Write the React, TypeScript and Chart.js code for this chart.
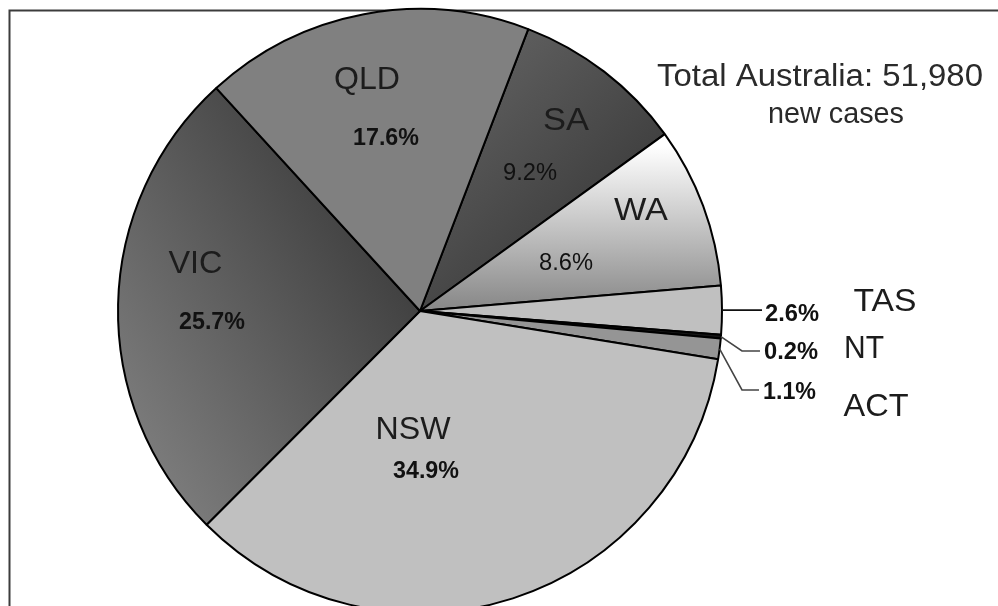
import React, { useEffect, useRef } from "react";
import { Chart, registerables } from "chart.js";

Chart.register(...registerables);

// ---- data ----
const categories = ["SA", "WA", "TAS", "NT", "ACT", "NSW", "VIC", "QLD"];
const shares = [9.2, 8.6, 2.6, 0.2, 1.1, 34.9, 25.7, 17.6];
const pctLabels = ["9.2%", "8.6%", "2.6%", "0.2%", "1.1%", "34.9%", "25.7%", "17.6%"];
const titleLines = ["Total Australia: 51,980", "new cases"];

// ---- styles / layout ----
const FONT = '"Liberation Sans", Arial, Helvetica, sans-serif';
const NAME_FONT = `31px ${FONT}`;
const TITLE2_FONT = `29px ${FONT}`;
const PCT_BOLD = `bold 24px ${FONT}`;
const PCT_REG = `24px ${FONT}`;
const RADIUS = 302;
const START_DEG = 21;

const flatColors: Record<string, string> = {
  SA: "#4a4a4a",
  WA: "#c8c8c8",
  TAS: "#c0c0c0",
  NT: "#151515",
  ACT: "#959595",
  NSW: "#c0c0c0",
  VIC: "#5a5a5a",
  QLD: "#808080",
};

// gradient endpoints in radius units relative to pie centre
const gradients: Record<string, [number, number, number, number, string, string]> = {
  SA: [0.199, -0.993, 0.828, -0.331, "#646464", "#383838"],
  WA: [0, -0.546, 0, -0.017, "#ffffff", "#8a8a8a"],
  VIC: [-0.927, 0.497, -0.033, -0.066, "#7d7d7d", "#414141"],
};

// inside labels: [dx/r, baselineDy/r, targetWidth]
const inside: Record<string, { name: number[]; pct: number[]; bold: boolean }> = {
  QLD: { name: [-0.1755, -0.7351, 66], pct: [-0.1126, -0.5497, 66], bold: true },
  SA: { name: [0.4834, -0.5993, 46], pct: [0.3642, -0.4338, 54], bold: false },
  WA: { name: [0.7318, -0.3013, 54], pct: [0.4834, -0.1358, 54], bold: false },
  VIC: { name: [-0.7434, -0.1258, 54], pct: [-0.6887, 0.0596, 66], bold: true },
  NSW: { name: [-0.0232, 0.4238, 75], pct: [0.0199, 0.553, 66], bold: true },
};

// outside labels with leader lines
const outside: Record<
  string,
  { elbow: number[] | null; end: number; pct: number[]; name: number[]; line: string }
> = {
  TAS: { elbow: null, end: 1.1325, pct: [1.1424, 0.0331, 54], name: [1.5397, 0.0, 63], line: "#111" },
  NT: { elbow: [1.0662, 0.1325], end: 1.1258, pct: [1.1391, 0.1589, 54], name: [1.4702, 0.1556, 40], line: "#444" },
  ACT: { elbow: [1.0662, 0.2616], end: 1.1225, pct: [1.1358, 0.2914, 53], name: [1.5099, 0.3477, 65], line: "#444" },
};

const titleLayout = [
  { x: 820, y: 86, w: 326, font: NAME_FONT },
  { x: 836, y: 123, w: 136, font: TITLE2_FONT },
];

function drawText(
  ctx: CanvasRenderingContext2D,
  text: string,
  x: number,
  y: number,
  font: string,
  align: CanvasTextAlign,
  width: number,
  color: string
) {
  ctx.save();
  ctx.font = font;
  const w = ctx.measureText(text).width;
  const sx = width && w ? width / w : 1;
  ctx.translate(x, y);
  ctx.scale(sx, 1);
  ctx.textAlign = align;
  ctx.textBaseline = "alphabetic";
  ctx.fillStyle = color;
  ctx.fillText(text, 0, 0);
  ctx.restore();
}

function centre(chart: any) {
  const a = chart.chartArea;
  return { cx: (a.left + a.right) / 2, cy: (a.top + a.bottom) / 2 };
}

const decorPlugin = {
  id: "decor",
  beforeDatasetsDraw(chart: any) {
    const ctx = chart.ctx as CanvasRenderingContext2D;
    ctx.save();
    ctx.strokeStyle = "#3c3c3c";
    ctx.lineWidth = 2;
    ctx.strokeRect(9.5, 10.5, 2000, 2000);
    ctx.restore();
  },
  afterDatasetsDraw(chart: any) {
    const ctx = chart.ctx as CanvasRenderingContext2D;
    const meta = chart.getDatasetMeta(0);
    const { cx, cy } = centre(chart);
    const r = RADIUS;
    categories.forEach((cat, i) => {
      const inL = inside[cat];
      if (inL) {
        drawText(ctx, cat, cx + inL.name[0] * r, cy + inL.name[1] * r, NAME_FONT, "center", inL.name[2], "#1c1c1c");
        drawText(
          ctx,
          pctLabels[i],
          cx + inL.pct[0] * r,
          cy + inL.pct[1] * r,
          inL.bold ? PCT_BOLD : PCT_REG,
          "center",
          inL.pct[2],
          "#111"
        );
      }
      const out = outside[cat];
      if (out) {
        const el = meta.data[i];
        const mid = (el.startAngle + el.endAngle) / 2;
        const sx = el.x + Math.cos(mid) * el.outerRadius;
        const sy = el.y + Math.sin(mid) * el.outerRadius;
        ctx.save();
        ctx.strokeStyle = out.line;
        ctx.lineWidth = 1.6;
        ctx.beginPath();
        ctx.moveTo(sx, sy);
        if (out.elbow) {
          const ex = cx + out.elbow[0] * r;
          const ey = cy + out.elbow[1] * r;
          ctx.lineTo(ex, ey);
          ctx.lineTo(cx + out.end * r, ey);
        } else {
          ctx.lineTo(cx + out.end * r, sy);
        }
        ctx.stroke();
        ctx.restore();
        drawText(ctx, pctLabels[i], cx + out.pct[0] * r, cy + out.pct[1] * r, PCT_BOLD, "left", out.pct[2], "#111");
        drawText(ctx, cat, cx + out.name[0] * r, cy + out.name[1] * r, NAME_FONT, "center", out.name[2], "#1c1c1c");
      }
    });
    titleLines.forEach((t, k) => {
      const L = titleLayout[k];
      drawText(ctx, t, L.x, L.y, L.font, "center", L.w, "#2a2a2a");
    });
  },
};

export default function App() {
  const ref = useRef<HTMLCanvasElement | null>(null);

  useEffect(() => {
    if (!ref.current) return;
    const fill = (c: any) => {
      const chart = c.chart;
      const cat = categories[c.dataIndex];
      const flat = flatColors[cat];
      const g = gradients[cat];
      if (!g || !chart.chartArea) return flat;
      const { cx, cy } = centre(chart);
      const r = RADIUS;
      const grad = chart.ctx.createLinearGradient(cx + g[0] * r, cy + g[1] * r, cx + g[2] * r, cy + g[3] * r);
      grad.addColorStop(0, g[4]);
      grad.addColorStop(1, g[5]);
      return grad;
    };
    const chart = new Chart(ref.current, {
      type: "pie",
      data: {
        labels: categories,
        datasets: [
          {
            data: shares,
            backgroundColor: fill,
            borderColor: "#000",
            borderWidth: 2,
            hoverOffset: 0,
          } as any,
        ],
      },
      options: {
        responsive: false,
        maintainAspectRatio: false,
        devicePixelRatio: 1,
        animation: false,
        events: [],
        rotation: START_DEG,
        radius: RADIUS,
        layout: { padding: { left: 0, right: 158, top: 0, bottom: 0 } },
        plugins: {
          legend: { display: false },
          tooltip: { enabled: false },
          title: { display: false },
        },
      } as any,
      plugins: [decorPlugin],
    });
    return () => chart.destroy();
  }, []);

  return (
    <div
      style={{
        position: "fixed",
        left: 0,
        top: 0,
        width: 998,
        height: 606,
        overflow: "hidden",
        background: "#fff",
      }}
    >
      <canvas ref={ref} width={998} height={622} style={{ display: "block", width: 998, height: 622 }} />
    </div>
  );
}
